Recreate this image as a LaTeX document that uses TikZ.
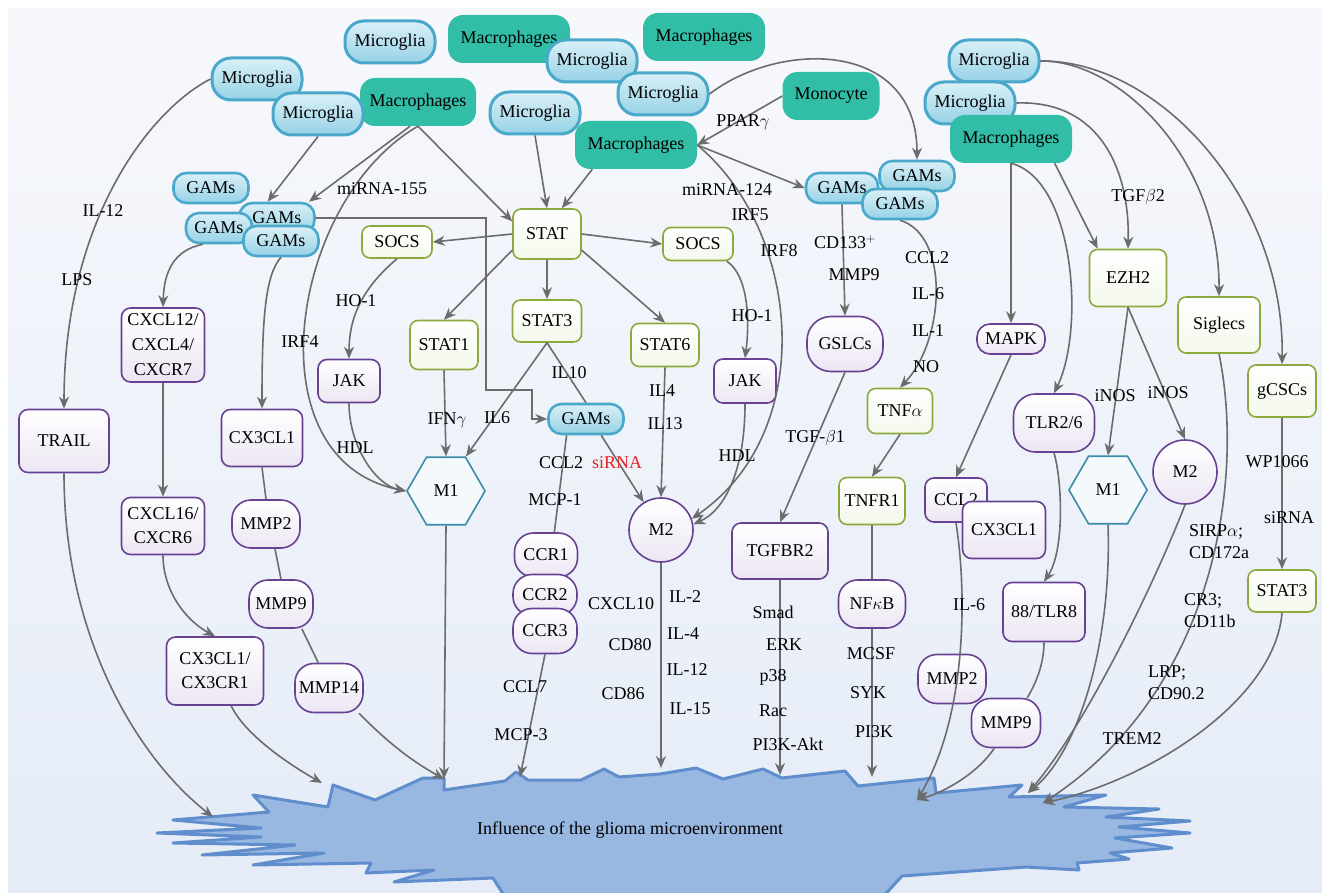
\documentclass[tikz,border=0pt]{standalone}
\usepackage{fontspec}
\setmainfont{Liberation Serif}
\usetikzlibrary{arrows.meta,shapes.geometric}

\definecolor{bgtop}{RGB}{247,248,252}
\definecolor{bgbot}{RGB}{229,236,247}
\definecolor{mgline}{RGB}{74,168,203}
\definecolor{mglight}{RGB}{218,240,247}
\definecolor{mgdark}{RGB}{150,210,230}
\definecolor{mphteal}{RGB}{50,190,166}
\definecolor{grnline}{RGB}{139,170,62}
\definecolor{grnfill}{RGB}{244,248,236}
\definecolor{purline}{RGB}{104,66,146}
\definecolor{purfill}{RGB}{236,230,243}
\definecolor{hexline}{RGB}{58,140,168}
\definecolor{hexfill}{RGB}{244,250,252}
\definecolor{linkgray}{RGB}{108,108,108}
\definecolor{starfill}{RGB}{152,183,225}
\definecolor{starline}{RGB}{96,142,204}
\definecolor{sirnared}{RGB}{232,36,36}

\tikzstyle{cell blue}=[draw=mgline, line width=3pt, top color=mglight, bottom color=mgdark, rounded corners=19pt, minimum width=90pt, minimum height=42pt, inner sep=1pt]
\tikzstyle{gams blue}=[cell blue, rounded corners=13pt, minimum width=75pt, minimum height=30pt, line width=2.6pt]
\tikzstyle{cell teal}=[fill=mphteal, rounded corners=15pt, minimum width=122pt, minimum height=48pt, inner sep=1pt]
\tikzstyle{box green}=[draw=grnline, line width=1.6pt, top color=white, bottom color=grnfill, rounded corners=8pt, minimum width=68pt, minimum height=43pt, inner sep=1pt]
\tikzstyle{box purple}=[draw=purline, line width=1.6pt, top color=white, bottom color=purfill, rounded corners=9pt, minimum width=62pt, minimum height=44pt, inner sep=1pt, align=center]
\tikzstyle{pill purple}=[box purple, rounded corners=19pt, minimum width=68pt, minimum height=48pt]
\tikzstyle{hex}=[regular polygon, regular polygon sides=6, minimum size=78pt, inner sep=0pt, draw=hexline, line width=1.6pt, fill=hexfill]
\tikzstyle{disc}=[circle, minimum size=64pt, inner sep=0pt, draw=purline, line width=1.6pt, top color=white, bottom color=purfill]
\tikzstyle{wire}=[draw=linkgray, line width=1.6pt]
\tikzstyle{lbl}=[inner sep=1pt]
\tikzstyle{glioma}=[fill=starfill, draw=starline, line width=3pt, line join=round]

\begin{document}
\begin{tikzpicture}[x=1pt,y=-1pt,>={Stealth[length=12pt,width=10pt]},font=\fontsize{18}{24}\selectfont]

    % Background
    \useasboundingbox (0,0) rectangle (1322,893);
    \fill[white] (0,0) rectangle (1322,893);
    \shade[top color=bgtop, bottom color=bgbot] (8,9) rectangle (1322,893);

    % Glioma microenvironment
    \draw[glioma] (157,833) -- (261,828) -- (173,820) -- (269,812) -- (253,795) -- (328,807)
      -- (333,785) -- (375,800) -- (423,778) -- (444,778) -- (444,790) -- (505,781) -- (516,772)
      -- (528,780) -- (581,780) -- (604,769) -- (619,777) -- (660,774) -- (696,768) -- (723,779)
      -- (763,769) -- (782,778) -- (845,771) -- (858,786) -- (934,778) -- (936,793) -- (1022,785)
      -- (1009,797) -- (1106,795) -- (1064,807) -- (1159,809) -- (1106,817) -- (1190,821)
      -- (1119,827) -- (1190,833) -- (1115,838) -- (1172,848) -- (1110,853) -- (1129,859)
      -- (1077,863) -- (1079,870) -- (1026,867) -- (902,876) -- (880,900) -- (660,897)
      -- (505,897) -- (493,878) -- (394,882) -- (434,870) -- (366,873) -- (371,863) -- (253,865)
      -- (324,853) -- (202,855) -- (295,845) -- (173,843) -- (261,837) -- cycle;
    \draw (630,830) node[lbl] (glio) {Influence of the glioma microenvironment};
    \coordinate (gTrail) at (213,817);
    \coordinate (gCx) at (322,783);
    \coordinate (gM1) at (444,779);
    \coordinate (gCcr) at (520,777);
    \coordinate (gM2) at (661,768);
    \coordinate (gTg) at (780,775);
    \coordinate (gNf) at (872,777);
    \coordinate (gMmp) at (917,800);
    \coordinate (gRM) at (1028,793);
    \coordinate (gRS) at (1043,803);

    % Cells
    \draw (390,42) node[cell blue] (micT) {Microglia};
    \draw (418,102) node[cell teal, minimum width=116pt] (macL) {Macrophages};
    \draw (257,79) node[cell blue] (micA) {Microglia};
    \draw (318,114) node[cell blue] (micB) {Microglia};
    \draw (509,39) node[cell teal] (macT) {Macrophages};
    \draw (592,61) node[cell blue] (micC) {Microglia};
    \draw (663,94) node[cell blue] (micD) {Microglia};
    \draw (704,37) node[cell teal] (macTR) {Macrophages};
    \draw (831,96) node[cell teal, minimum width=97pt] (mono) {Monocyte};
    \draw (535,113) node[cell blue] (micE) {Microglia};
    \draw (636,145) node[cell teal] (macC) {Macrophages};
    \draw (994,61) node[cell blue] (micR1) {Microglia};
    \draw (970,103) node[cell blue] (micR2) {Microglia};
    \draw (1011,139) node[cell teal] (macR) {Macrophages};

    % GAMs
    \draw (211,188) node[gams blue] (gamA) {GAMs};
    \draw (277,218) node[gams blue] (gamB) {GAMs};
    \draw (219,228) node[gams blue, minimum width=66pt] (gamC) {GAMs};
    \draw (281,241) node[gams blue] (gamD) {GAMs};
    \draw (586,419) node[gams blue] (gamE) {GAMs};
    \draw (842,188) node[gams blue, minimum width=72pt] (gamF) {GAMs};
    \draw (917,176) node[gams blue] (gamG) {GAMs};
    \draw (900,204) node[gams blue] (gamH) {GAMs};

    % Signalling
    \draw (547,234) node[box green, minimum height=50pt] (stat) {STAT};
    \draw (397,242) node[box green, minimum width=70pt, minimum height=32pt] (socsL) {SOCS};
    \draw (698,244) node[box green, minimum width=70pt, minimum height=33pt] (socsR) {SOCS};
    \draw (444,345) node[box green, minimum height=49pt] (stat1) {STAT1};
    \draw (547,321) node[box green, minimum width=69pt, minimum height=42pt] (stat3) {STAT3};
    \draw (665,345) node[box green] (stat6) {STAT6};
    \draw (900,411) node[box green, minimum width=65pt, minimum height=45pt] (tnfa) {TNF$\alpha$};
    \draw (872,501) node[box green, minimum width=66pt, minimum height=47pt] (tnfr) {TNFR1};
    \draw (1128,278) node[box green, minimum width=77pt, minimum height=57pt] (ezh) {EZH2};
    \draw (1219,325) node[box green, minimum width=82pt, minimum height=56pt] (sig) {Siglecs};
    \draw (1282,391) node[box green, minimum height=52pt] (gcsc) {gCSCs};
    \draw (1282,591) node[box green, minimum height=42pt] (stat3R) {STAT3};

    % Mediators
    \draw (163,345) node[box purple, minimum width=83pt, minimum height=74pt, font=\fontsize{18}{25}\selectfont] (cxcl12) {CXCL12/\\CXCL4/\\CXCR7};
    \draw (64,441) node[box purple, minimum width=90pt, minimum height=63pt] (trail) {TRAIL};
    \draw (262,438) node[box purple, minimum width=81pt, minimum height=57pt] (cx3cl1) {CX3CL1};
    \draw (349,381) node[box purple, minimum height=43pt] (jakL) {JAK};
    \draw (163,526) node[box purple, minimum width=83pt, minimum height=57pt] (cxcl16) {CXCL16/\\CXCR6};
    \draw (215,671) node[box purple, minimum width=97pt, minimum height=68pt] (cx3cr1) {CX3CL1/\\CX3CR1};
    \draw (745,381) node[box purple] (jakR) {JAK};
    \draw (780,551) node[box purple, minimum width=96pt, minimum height=56pt] (tgfbr) {TGFBR2};
    \draw (956,500) node[box purple] (ccl2R) {CCL2};
    \draw (1004,530) node[box purple, minimum width=83pt, minimum height=57pt] (cx3R) {CX3CL1};
    \draw (1044,612) node[box purple, minimum width=82pt, minimum height=59pt] (tlr8) {88/TLR8};
    \draw (266,524) node[pill purple] (mmp2L) {MMP2};
    \draw (281,604) node[pill purple, minimum width=64pt] (mmp9L) {MMP9};
    \draw (329,688) node[pill purple, minimum height=49pt] (mmp14) {MMP14};
    \draw (546,555) node[pill purple, minimum width=63pt, minimum height=44pt] (ccr1) {CCR1};
    \draw (545,595) node[pill purple, minimum width=64pt, minimum height=41pt] (ccr2) {CCR2};
    \draw (545,631) node[pill purple, minimum width=64pt, minimum height=45pt] (ccr3) {CCR3};
    \draw (845,344) node[pill purple, minimum width=76pt, minimum height=55pt, rounded corners=24pt] (gslc) {GSLCs};
    \draw (872,604) node[pill purple, minimum width=67pt] (nfkb) {NF$\kappa$B};
    \draw (1011,339) node[pill purple, minimum height=30pt, rounded corners=13pt] (mapk) {MAPK};
    \draw (1054,423) node[pill purple, minimum width=81pt, minimum height=58pt, rounded corners=22pt] (tlr26) {TLR2/6};
    \draw (952,679) node[pill purple, minimum height=49pt] (mmp2R) {MMP2};
    \draw (1006,723) node[pill purple, minimum width=69pt, minimum height=49pt] (mmp9R) {MMP9};

    % Phenotypes
    \draw (446,491) node[hex] (m1L) {M1};
    \draw (1108,490) node[hex] (m1R) {M1};
    \draw (661,530) node[disc] (m2L) {M2};
    \draw (1185,472) node[disc] (m2R) {M2};

    % Links, left half
    \coordinate (bendA) at (486,390);
    \coordinate (bendB) at (532,419);
    \draw[wire,->] (micA.west) .. controls (150,110) and (64,220) .. (trail.north);
    \draw[wire,->] (trail.south) .. controls (64,640) and (140,760) .. (gTrail);
    \draw[wire,->] (micB.south) -- (gamB.120);
    \draw[wire,->] (macL.252) -- (gamB.27);
    \draw[wire,->] (macL.south) .. controls (290,200) and (250,460) .. (m1L.west);
    \draw[wire,->] (macL.south) -- (stat.160);
    \draw[wire,->] (micE.south) -- (stat.north);
    \draw[wire,->] (macC.209) -- (stat.60);
    \draw[wire,->] (stat.west) -- (socsL.east);
    \draw[wire,->] (stat.east) -- (socsR.west);
    \draw[wire,->] (stat.205) -- (stat1.north);
    \draw[wire,->] (stat.south) -- (stat3.north);
    \draw[wire,->] (stat.335) -- (stat6.north);
    \draw[wire,->] (socsL.south) .. controls (360,290) and (349,320) .. (jakL.north);
    \draw[wire,->] (socsR.-31) .. controls (748,275) and (750,320) .. (jakR.north);
    \draw[wire,->] (jakL.south) .. controls (349,445) and (375,485) .. (m1L.west);
    \draw[wire,->] (stat1.south) -- (m1L.north);
    \draw[wire,->] (stat3.south) -- (m1L.60);
    \draw[wire] (stat3.south) -- (gamE.north);
    \draw[wire,->] (gamB.east) -| (bendA) -| (bendB) -- (gamE.west);
    \draw[wire,->] (gamE.-47) -- (m2L.122);
    \draw[wire] (gamE.220) -- (ccr1.70);
    \draw[wire,->] (stat6.south) -- (m2L.north);
    \draw[wire,->] (jakR.south) .. controls (745,470) and (725,510) .. (m2L.10);
    \draw[wire,->] (macC.east) .. controls (800,230) and (820,430) .. (m2L.20);
    \draw[wire,->] (mono.west) -- (macC.east);
    \draw[wire,->] (macC.east) -- (gamF.west);
    \draw[wire,->] (micD.east) .. controls (780,40) and (917,40) .. (gamG.north);
    \draw[wire,->] (gamF.south) -- (gslc.north);
    \draw[wire,->] (gamH.south) .. controls (950,235) and (945,340) .. (tnfa.north);
    \draw[wire,->] (gslc.south) -- (tgfbr.north);
    \draw[wire,->] (tnfa.south) -- (tnfr.north);
    \draw[wire] (tnfr.south) -- (nfkb.north);
    \draw[wire,->] (nfkb.south) -- (gNf);
    \draw[wire,->] (tgfbr.south) -- (gTg);
    \draw[wire,->] (m2L.south) -- (gM2);
    \draw[wire,->] (ccr3.south) -- (gCcr);
    \draw[wire,->] (m1L.south) -- (gM1);
    \draw[wire,->] (mmp14.-40) .. controls (385,740) and (410,760) .. (gM1);
    \draw[wire,->] (cx3cr1.-65) .. controls (245,735) and (290,765) .. (gCx);
    \draw[wire,->] (cxcl16.south) .. controls (163,590) and (185,620) .. (cx3cr1.north);
    \draw[wire,->] (cxcl12.south) -- (cxcl16.north);
    \draw[wire,->] (gamC.225) .. controls (175,250) and (164,270) .. (cxcl12.north);
    \draw[wire,->] (gamD.south) .. controls (265,275) and (262,320) .. (cx3cl1.north);
    \draw[wire] (cx3cl1.south) -- (mmp2L.north);
    \draw[wire] (mmp2L.-70) -- (mmp9L.north);
    \draw[wire] (mmp9L.-50) -- (mmp14.113);

    % Links, right half
    \draw[wire,->] (micR1.east) .. controls (1120,60) and (1220,160) .. (sig.north);
    \draw[wire,->] (micR1.east) .. controls (1160,60) and (1285,200) .. (gcsc.north);
    \draw[wire,->] (micR2.east) .. controls (1100,100) and (1130,170) .. (ezh.north);
    \draw[wire,->] (macR.south) -- (mapk.north);
    \draw[wire,->] (macR.south) .. controls (1075,180) and (1085,330) .. (tlr26.north);
    \draw[wire,->] (macR.-29) -- (ezh.136);
    \draw[wire,->] (ezh.south) -- (m1R.north);
    \draw[wire,->] (ezh.south) -- (m2R.north);
    \draw[wire,->] (mapk.south) -- (ccl2R.north);
    \draw[wire,->] (tlr26.south) .. controls (1062,480) and (1065,550) .. (tlr8.north);
    \draw[wire] (tlr8.south) .. controls (1044,665) and (1035,685) .. (mmp9R.50);
    \draw[wire,->] (mmp9R.-115) .. controls (980,770) and (950,790) .. (gMmp);
    \draw[wire,->] (ccl2R.south) .. controls (968,600) and (965,720) .. (gMmp);
    \draw[wire,->] (m1R.south) .. controls (1112,640) and (1080,750) .. (gRM);
    \draw[wire,->] (m2R.south) .. controls (1160,570) and (1090,720) .. (gRM);
    \draw[wire,->] (sig.south) .. controls (1245,480) and (1215,690) .. (gRS);
    \draw[wire,->] (gcsc.south) -- (stat3R.north);
    \draw[wire,->] (stat3R.south) .. controls (1275,700) and (1150,780) .. (gRS);

    % Labels
    \draw (103,211) node[lbl] (tIL12) {IL-12};
    \draw (77,280) node[lbl] (tLPS) {LPS};
    \draw (382,189) node[lbl] (tMir155) {miRNA-155};
    \draw (356,301) node[lbl] (tHOa) {HO-1};
    \draw (300,342) node[lbl] (tIRF4) {IRF4};
    \draw (355,448) node[lbl] (tHDLa) {HDL};
    \draw (447,420) node[lbl] (tIFN) {IFN$\gamma$};
    \draw (497,418) node[lbl] (tIL6) {IL6};
    \draw (569,373) node[lbl] (tIL10) {IL10};
    \draw (561,463) node[lbl] (tCCL2a) {CCL2};
    \draw (617,463) node[lbl, text=sirnared] (tsiRNAa) {siRNA};
    \draw (555,500) node[lbl] (tMCP1) {MCP-1};
    \draw (662,391) node[lbl] (tIL4) {IL4};
    \draw (665,424) node[lbl] (tIL13) {IL13};
    \draw (752,316) node[lbl] (tHOb) {HO-1};
    \draw (737,456) node[lbl] (tHDLb) {HDL};
    \draw (743,122) node[lbl] (tPPAR) {PPAR$\gamma$};
    \draw (727,190) node[lbl] (tMir124) {miRNA-124};
    \draw (750,215) node[lbl] (tIRF5) {IRF5};
    \draw (779,251) node[lbl] (tIRF8) {IRF8};
    \draw (845,242) node[lbl] (tCD133) {CD133$^{+}$};
    \draw (854,275) node[lbl] (tMMP9a) {MMP9};
    \draw (815,438) node[lbl] (tTGFb1) {TGF-$\beta$1};
    \draw (927,258) node[lbl] (tCCL2b) {CCL2};
    \draw (928,294) node[lbl] (tIL6b) {IL-6};
    \draw (928,331) node[lbl] (tIL1) {IL-1};
    \draw (926,367) node[lbl] (tNO) {NO};
    \draw (1138,197) node[lbl] (tTGFb2) {TGF$\beta$2};
    \draw (1115,396) node[lbl] (tiNOSa) {iNOS};
    \draw (1168,393) node[lbl] (tiNOSb) {iNOS};
    \draw (1277,462) node[lbl] (tWP) {WP1066};
    \draw (1289,518) node[lbl] (tsiRNAb) {siRNA};
    \draw (1188,542) node[lbl, anchor=west, align=left, font=\fontsize{18}{22}\selectfont] (tSIRP) {SIRP$\alpha$;\\CD172a};
    \draw (1183,611) node[lbl, anchor=west, align=left, font=\fontsize{18}{22}\selectfont] (tCR3) {CR3;\\CD11b};
    \draw (1147,683) node[lbl, anchor=west, align=left, font=\fontsize{18}{22}\selectfont] (tLRP) {LRP;\\CD90.2};
    \draw (1132,739) node[lbl] (tTREM) {TREM2};
    \draw (621,604) node[lbl] (tCXCL10) {CXCL10};
    \draw (630,645) node[lbl] (tCD80) {CD80};
    \draw (623,694) node[lbl] (tCD86) {CD86};
    \draw (685,597) node[lbl] (tIL2) {IL-2};
    \draw (683,634) node[lbl] (tIL4b) {IL-4};
    \draw (687,670) node[lbl] (tIL12b) {IL-12};
    \draw (690,709) node[lbl] (tIL15) {IL-15};
    \draw (525,687) node[lbl] (tCCL7) {CCL7};
    \draw (521,735) node[lbl] (tMCP3) {MCP-3};
    \draw (773,612) node[lbl] (tSmad) {Smad};
    \draw (784,645) node[lbl] (tERK) {ERK};
    \draw (773,677) node[lbl] (tp38) {p38};
    \draw (773,711) node[lbl] (tRac) {Rac};
    \draw (788,744) node[lbl] (tPIAkt) {PI3K-Akt};
    \draw (871,654) node[lbl] (tMCSF) {MCSF};
    \draw (868,693) node[lbl] (tSYK) {SYK};
    \draw (874,732) node[lbl] (tPI3K) {PI3K};
    \draw (969,605) node[lbl] (tIL6c) {IL-6};

\end{tikzpicture}
\end{document}
